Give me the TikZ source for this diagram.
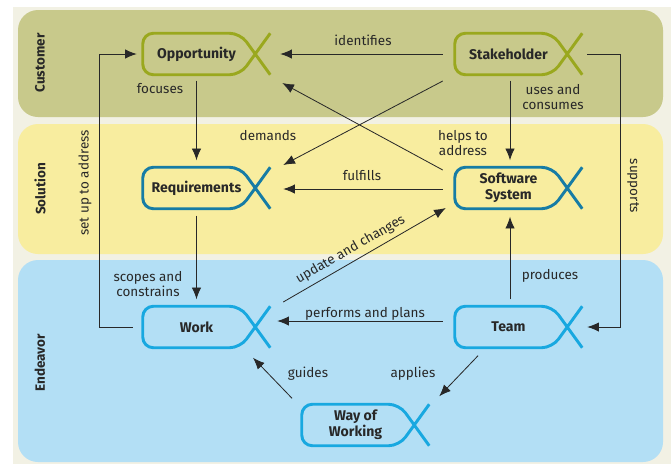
\documentclass[tikz,border=0pt]{standalone}
\usepackage{fontspec}
\setmainfont{Fira Sans}
\usetikzlibrary{arrows.meta,positioning,calc}

\definecolor{paper}{RGB}{242,241,228}
\definecolor{custband}{RGB}{200,201,139}
\definecolor{solband}{RGB}{248,237,159}
\definecolor{endband}{RGB}{179,223,245}
\definecolor{custline}{RGB}{154,168,30}
\definecolor{solline}{RGB}{22,124,165}
\definecolor{endline}{RGB}{24,168,224}
\definecolor{ink}{RGB}{40,40,40}

% rounded box with the crossed tail on its right side
\newcommand{\alphabox}[2]{%
  \draw[#2, line width=2.5pt, rounded corners=9pt]
    ($(#1.north east)+(20,0)$) -- ($(#1.south east)+(-10,0)$) -- (#1.south west)
    -- (#1.north west) -- ($(#1.north east)+(-10,0)$) -- ($(#1.south east)+(20,0)$);
}

\begin{document}
\begin{tikzpicture}[x=0.03cm, y=-0.03cm,
  alpha/.style={minimum width=3.21cm, minimum height=1.23cm, inner sep=0pt, align=center,
    font=\bfseries\fontsize{12}{14}\selectfont, text=ink},
  link/.style={draw=ink, line width=0.7pt, -{Latex[length=10pt,width=8pt]}},
  lbl/.style={font=\fontsize{11.5}{13.5}\selectfont, text=ink, align=center, inner sep=0pt},
  band/.style={rounded corners=0.6cm},
  side/.style={font=\bfseries\fontsize{11.5}{13}\selectfont, rotate=90, text=ink}]

  \useasboundingbox (0,0) rectangle (671,464);
  \fill[white] (0,0) rectangle (671,464);
  \fill[paper] (13,7) rectangle (671,464);

  % bands
  \fill[custband, band] (18,10) rectangle (663,117);
  \fill[solband, band] (18,124) rectangle (663,254);
  \fill[endband, band] (18,260) rectangle (663,462);
  \node[side] (custside) at (40,63) {Customer};
  \node[side] (solside) at (40,189) {Solution};
  \node[side] (endside) at (40,363) {Endeavor};

  % alphas
  \node[alpha] (opp) at (196.5,54) {Opportunity};
  \node[alpha] (stake) at (508.5,54) {Stakeholder};
  \node[alpha] (req) at (196.5,188) {Requirements};
  \node[alpha] (soft) at (508.5,188) {Software\\System};
  \node[alpha] (work) at (196.5,327) {Work};
  \node[alpha] (team) at (508.5,327) {Team};
  \node[alpha] (wow) at (355.5,425) {Way of\\Working};

  \alphabox{opp}{custline}
  \alphabox{stake}{custline}
  \alphabox{req}{solline}
  \alphabox{soft}{solline}
  \alphabox{work}{endline}
  \alphabox{team}{endline}
  \alphabox{wow}{endline}

  % relations
  \draw[link] ($(stake.west)+(-12,0)$) -- ($(opp.east)+(30,0)$);
  \draw[link] ($(opp.south)+(0,6)$) -- ($(req.north)+(0,-7)$);
  \draw[link] ($(stake.south)+(1.5,6)$) -- ($(soft.north)+(1.5,-7)$);
  \draw[link] ($(stake.west)+(-12,27)$) -- ($(req.east)+(33,-23)$);
  \draw[link] ($(soft.west)+(-12,-18)$) -- ($(opp.east)+(32,29)$);
  \draw[link] ($(soft.west)+(-12,1)$) -- ($(req.east)+(33,1)$);
  \draw[link] ($(work.west)+(-10,0)$) -- ++(-33,0) |- ($(opp.west)+(-6,0)$);
  \draw[link] ($(req.south)+(0,7)$) -- ($(work.north)+(0,-7)$);
  \draw[link] ($(work.east)+(33,-25)$) -- ($(soft.west)+(-9,20)$)
    node[lbl, sloped, above=4pt, pos=0.45] (updlbl) {update and changes};
  \draw[link] ($(team.north)+(1.5,-7)$) -- ($(soft.south)+(1.5,8)$);
  \draw[link] ($(team.west)+(-12,-6)$) -- ($(work.east)+(27,-6)$);
  \draw[link] ($(stake.east)+(25,0)$) -- ++(33,0) |- ($(team.east)+(25,0)$);
  \draw[link] ($(wow.north)+(-63.5,-6)$) -- ($(work.south)+(56.5,10)$);
  \draw[link] ($(team.south)+(-30.5,8)$) -- ($(wow.north east)+(30,-8)$);

  % relation labels
  \node[lbl] (identlbl) at (363,40) {identifies};
  \node[lbl] (foclbl) at (160,89) {focuses};
  \node[lbl] (uselbl) at (553,97) {uses and\\consumes};
  \node[lbl] (demlbl) at (268,136) {demands};
  \node[lbl] (helplbl) at (463,143) {helps to\\address};
  \node[lbl] (fulflbl) at (362,176) {fulfills};
  \node[lbl, rotate=90] (setlbl) at (85,183) {set up to address};
  \node[lbl] (scopelbl) at (148,284) {scopes and\\constrains};
  \node[lbl] (prodlbl) at (550,276) {produces};
  \node[lbl] (perflbl) at (365,314) {performs and plans};
  \node[lbl, rotate=-90] (suplbl) at (633,186) {supports};
  \node[lbl] (guidlbl) at (308,374) {guides};
  \node[lbl] (applbl) at (413,374) {applies};
\end{tikzpicture}
\end{document}
